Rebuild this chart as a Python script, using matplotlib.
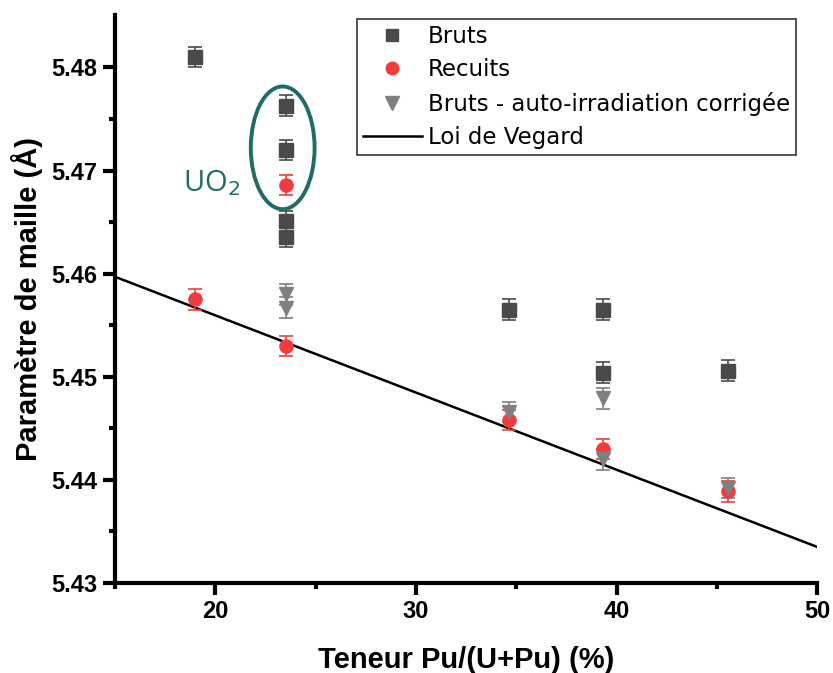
import matplotlib
matplotlib.use("Agg")
import matplotlib.pyplot as plt
from matplotlib.patches import Ellipse
from matplotlib.lines import Line2D

# Bruts
bruts_x = [19.0, 23.55, 23.55, 23.55, 23.55, 34.65, 39.35, 39.35, 45.55]
bruts_y = [5.4810, 5.4763, 5.4720, 5.4651, 5.4636, 5.4565, 5.4565, 5.4504, 5.4506]
# Recuits
recuits_x = [19.0, 23.55, 23.55, 34.65, 39.35, 45.55]
recuits_y = [5.4575, 5.4686, 5.4530, 5.4458, 5.4430, 5.4389]
# Bruts - auto-irradiation corrigee
corr_x = [23.55, 23.55, 34.65, 39.35, 39.35, 45.55]
corr_y = [5.4580, 5.4567, 5.4466, 5.4479, 5.4420, 5.4392]
err = 0.001

# Loi de Vegard
vegard_x = [15, 50]
vegard_y = [5.4597, 5.4335]

plt.rcParams['font.family'] = ['Liberation Sans', 'DejaVu Sans']

fig = plt.figure(figsize=(8.33, 6.73), dpi=100)
ax = fig.add_axes([0.138, 0.1337, 0.843, 0.8443])

ax.errorbar(bruts_x, bruts_y, yerr=err, fmt='s', color='#4a4a4a', ms=9.5,
            ecolor='#4a4a4a', elinewidth=1.2, capsize=5, capthick=1.2, zorder=3)
ax.errorbar(recuits_x, recuits_y, yerr=err, fmt='o', color='#f03c3c', ms=9.5,
            ecolor='#f03c3c', elinewidth=1.2, capsize=5, capthick=1.2, zorder=3)
ax.errorbar(corr_x, corr_y, yerr=err, fmt='v', color='#808080', ms=10.5,
            ecolor='#808080', elinewidth=1.2, capsize=5, capthick=1.2, zorder=3)
ax.plot(vegard_x, vegard_y, color='black', lw=1.8, zorder=2)

ax.add_patch(Ellipse((23.36, 5.4722), 3.18, 0.0119, fill=False,
                     edgecolor='#1f6b68', lw=2.8, zorder=4))
ax.text(19.8, 5.4688, 'UO$_2$', color='#1f6b68', fontsize=21,
        family='Open Sans', ha='center', va='center')

ax.set_xlim(15, 50)
ax.set_ylim(5.43, 5.4851)
ax.set_xticks([20, 30, 40, 50])
ax.set_xticks([15, 25, 35, 45], minor=True)
ax.set_yticks([5.43, 5.44, 5.45, 5.46, 5.47, 5.48])
ax.set_yticks([5.435, 5.445, 5.455, 5.465, 5.475], minor=True)
ax.set_yticklabels(['5.43', '5.44', '5.45', '5.46', '5.47', '5.48'])

for s in ['top', 'right']:
    ax.spines[s].set_visible(False)
for s in ['left', 'bottom']:
    ax.spines[s].set_linewidth(3)
ax.tick_params(which='major', direction='out', length=8.5, width=3,
               labelsize=17, pad=4)
ax.tick_params(which='minor', direction='out', length=4.5, width=3)
for lab in ax.get_xticklabels() + ax.get_yticklabels():
    lab.set_fontweight('bold')

ax.set_xlabel('Teneur Pu/(U+Pu) (%)', fontsize=21, fontweight='bold', labelpad=16)
ax.set_ylabel('Paramètre de maille (Å)', fontsize=21, fontweight='bold', labelpad=6)

handles = [
    Line2D([], [], marker='s', color='#4a4a4a', ls='none', ms=9),
    Line2D([], [], marker='o', color='#f03c3c', ls='none', ms=9),
    Line2D([], [], marker='v', color='#808080', ls='none', ms=10),
    Line2D([], [], color='black', lw=1.8),
]
labels = ['Bruts', 'Recuits', 'Bruts - auto-irradiation corrigée', 'Loi de Vegard']
leg = ax.legend(handles, labels, loc='upper left', bbox_to_anchor=(0.338, 1.0),
                prop={'family': 'DejaVu Sans', 'size': 16.5},
                frameon=True, fancybox=False, edgecolor='black',
                borderpad=0.25, labelspacing=0.45, handlelength=2.6,
                handletextpad=0.26, borderaxespad=0.2)
leg.get_frame().set_linewidth(1.2)

fig.savefig('out.png', dpi=100)
